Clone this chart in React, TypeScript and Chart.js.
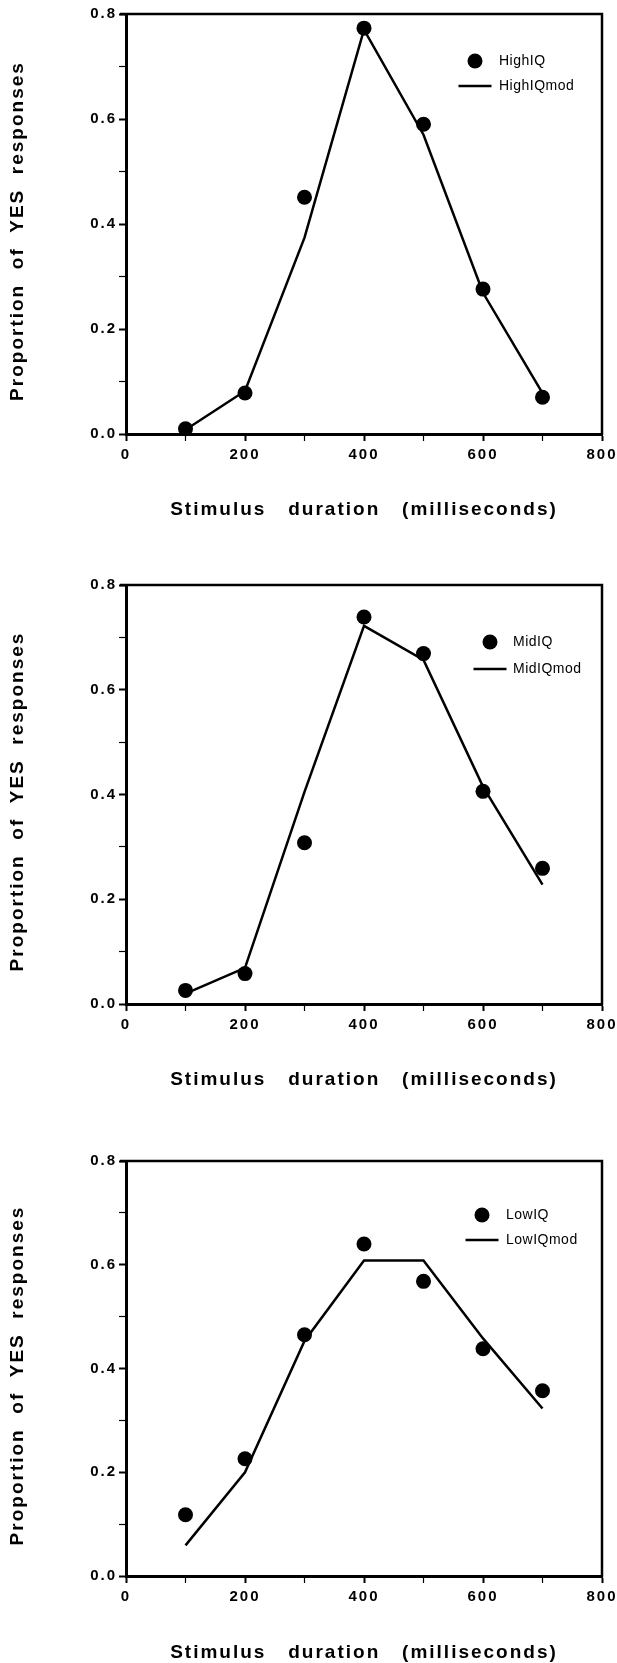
import React, { useEffect, useRef } from "react";
import { Chart, registerables } from "chart.js";
Chart.register(...registerables);

// ---------- data ----------
const durations = [100, 200, 300, 400, 500, 600, 700];
const xTickValues = [0, 200, 400, 600, 800];
const yTickValues = [0, 0.2, 0.4, 0.6, 0.8];

const highIQ = [0.010, 0.078, 0.451, 0.773, 0.590, 0.276, 0.070];
const highIQmod = [0.008, 0.082, 0.374, 0.770, 0.570, 0.269, 0.078];
const midIQ = [0.026, 0.058, 0.308, 0.739, 0.669, 0.406, 0.259];
const midIQmod = [0.020, 0.069, 0.405, 0.722, 0.657, 0.415, 0.228];
const lowIQ = [0.118, 0.226, 0.465, 0.640, 0.568, 0.438, 0.357];
const lowIQmod = [0.059, 0.200, 0.453, 0.608, 0.608, 0.458, 0.323];

const xTitle = "Stimulus   duration   (milliseconds)";
const yTitle = "Proportion  of  YES  responses";

const FONT = "'Liberation Sans', Arial, Helvetica, sans-serif";

// ---------- plugins ----------
const spacingPlugin = {
  id: "letterSpacing",
  beforeDraw(chart: any) {
    chart.ctx.letterSpacing = "2px";
  },
  afterDraw(chart: any) {
    chart.ctx.letterSpacing = "0px";
  },
};

const framePlugin = {
  id: "frame",
  afterDraw(chart: any) {
    const { ctx, chartArea } = chart;
    const { left, top, right, bottom } = chartArea;
    ctx.save();
    ctx.strokeStyle = "#000";
    ctx.lineWidth = 2.5;
    ctx.beginPath();
    ctx.moveTo(left - 6, top);
    ctx.lineTo(right, top);
    ctx.lineTo(right, bottom + 1);
    ctx.stroke();
    ctx.restore();
  },
};

const insetLegendPlugin = {
  id: "insetLegend",
  afterDraw(chart: any, _args: any, opts: any) {
    const { ctx, chartArea } = chart;
    ctx.save();
    ctx.letterSpacing = "0.5px";
    ctx.font = `14px ${FONT}`;
    ctx.textBaseline = "middle";
    ctx.textAlign = "left";
    ctx.fillStyle = "#000";
    chart.data.datasets.forEach((ds: any, i: number) => {
      const cx = chartArea.right - opts.symbolFromRight;
      const cy = chartArea.top + opts.rows[i];
      if (ds.showLine === false) {
        ctx.beginPath();
        ctx.arc(cx, cy, ds.pointRadius, 0, Math.PI * 2);
        ctx.fill();
      } else {
        ctx.strokeStyle = ds.borderColor;
        ctx.lineWidth = ds.borderWidth;
        ctx.beginPath();
        ctx.moveTo(cx - opts.lineHalf, cy);
        ctx.lineTo(cx + opts.lineHalf, cy);
        ctx.stroke();
      }
      ctx.fillText(ds.label, chartArea.right - opts.textFromRight, cy);
    });
    ctx.restore();
  },
};

// y title drawn slightly below the plot centre, as in the original
const yTitlePlugin = {
  id: "yTitle",
  afterDraw(chart: any, _args: any, opts: any) {
    const { ctx, chartArea } = chart;
    ctx.save();
    ctx.letterSpacing = "2px";
    ctx.font = `bold 19px ${FONT}`;
    ctx.fillStyle = "#000";
    ctx.textAlign = "center";
    ctx.textBaseline = "middle";
    ctx.translate(opts.x, (chartArea.top + chartArea.bottom) / 2 + opts.shift);
    ctx.rotate(-Math.PI / 2);
    ctx.fillText(opts.text, 0, 0);
    ctx.restore();
  },
};

// ---------- panels ----------
type Panel = {
  top: number;
  height: number;
  padTop: number;
  chartBottom: number;
  titleY: number;
  names: [string, string];
  obs: number[];
  mod: number[];
  legend: { symbolFromRight: number; textFromRight: number; rows: number[] };
};

const panels: Panel[] = [
  {
    top: 0, height: 540, padTop: 14, chartBottom: 434, titleY: 510,
    names: ["HighIQ", "HighIQmod"], obs: highIQ, mod: highIQmod,
    legend: { symbolFromRight: 127, textFromRight: 103, rows: [47, 72] },
  },
  {
    top: 540, height: 560, padTop: 45, chartBottom: 464, titleY: 540,
    names: ["MidIQ", "MidIQmod"], obs: midIQ, mod: midIQmod,
    legend: { symbolFromRight: 112, textFromRight: 89, rows: [57, 84] },
  },
  {
    top: 1100, height: 563, padTop: 61, chartBottom: 476, titleY: 553,
    names: ["LowIQ", "LowIQmod"], obs: lowIQ, mod: lowIQmod,
    legend: { symbolFromRight: 120, textFromRight: 96, rows: [54, 79] },
  },
];

const W = 617;
const PLOT_LEFT = 126;
const PLOT_RIGHT_PAD = 15;

function makeConfig(p: Panel): any {
  const xHeight = p.height - p.chartBottom;
  const titleFont = { family: FONT, size: 19, weight: "bold" as const, lineHeight: 1 };
  const tickFont = { family: FONT, size: 15, weight: "bold" as const };
  const isMajor = (v: number, arr: number[]) => arr.some((a) => Math.abs(a - v) < 1e-6);
  return {
    type: "line",
    data: {
      datasets: [
        {
          label: p.names[0],
          data: durations.map((d, i) => ({ x: d, y: p.obs[i] })),
          showLine: false,
          pointRadius: 7.5,
          pointBackgroundColor: "#000",
          pointBorderWidth: 0,
          borderColor: "#000",
          backgroundColor: "#000",
          clip: false,
        },
        {
          label: p.names[1],
          data: durations.map((d, i) => ({ x: d, y: p.mod[i] })),
          showLine: true,
          pointRadius: 0,
          borderWidth: 2.5,
          borderColor: "#000",
          backgroundColor: "#000",
          tension: 0,
          fill: false,
          clip: false,
        },
      ],
    },
    options: {
      responsive: false,
      animation: false,
      devicePixelRatio: 1,
      layout: { padding: { top: p.padTop, left: 0, right: PLOT_RIGHT_PAD, bottom: 0 } },
      plugins: {
        legend: { display: false },
        tooltip: { enabled: false },
        insetLegend: { ...p.legend, lineHalf: 16.5 },
        yTitle: { text: yTitle, x: 18, shift: 7 },
      },
      scales: {
        x: {
          type: "linear",
          min: 0,
          max: 800,
          border: { display: true, color: "#000", width: 3 },
          grid: {
            drawOnChartArea: false,
            drawTicks: true,
            tickLength: 7,
            tickColor: "#000",
            tickWidth: (c: any) => (isMajor(c.tick.value, xTickValues) ? 2 : 1.2),
          },
          ticks: {
            stepSize: 100,
            autoSkip: false,
            maxRotation: 0,
            padding: 5,
            color: "#000",
            font: tickFont,
            callback: (v: number) => (isMajor(v, xTickValues) ? String(v) : ""),
          },
          title: {
            display: true,
            text: xTitle,
            color: "#000",
            font: titleFont,
            padding: { top: 0, bottom: p.height - p.titleY - 9.5 },
          },
          afterFit: (s: any) => {
            s.height = xHeight;
            s.paddingLeft = 0;
            s.paddingRight = 0;
          },
        },
        y: {
          type: "linear",
          min: 0,
          max: 0.8,
          border: { display: true, color: "#000", width: 3 },
          grid: {
            drawOnChartArea: false,
            drawTicks: true,
            tickLength: 7,
            tickColor: "#000",
            tickWidth: (c: any) => (isMajor(c.tick.value, yTickValues) ? 2 : 1.2),
          },
          ticks: {
            stepSize: 0.1,
            autoSkip: false,
            padding: 2,
            color: "#000",
            font: tickFont,
            callback: (v: number) => (isMajor(v, yTickValues) ? v.toFixed(1) : ""),
          },
          title: { display: false },
          afterFit: (s: any) => {
            s.width = PLOT_LEFT;
            s.paddingTop = 0;
            s.paddingBottom = 0;
          },
        },
      },
    },
    plugins: [spacingPlugin, framePlugin, insetLegendPlugin, yTitlePlugin],
  };
}

function PanelChart({ p }: { p: Panel }) {
  const ref = useRef<HTMLCanvasElement | null>(null);
  useEffect(() => {
    if (!ref.current) return;
    const chart = new Chart(ref.current, makeConfig(p));
    return () => chart.destroy();
  }, [p]);
  return (
    <div style={{ position: "absolute", left: 0, top: p.top, width: W, height: p.height }}>
      <canvas ref={ref} width={W} height={p.height} style={{ display: "block", width: W, height: p.height }} />
    </div>
  );
}

export default function App() {
  return (
    <div style={{ position: "absolute", left: 0, top: 0, width: W, height: 1663, background: "#fff" }}>
      {panels.map((p, i) => (
        <PanelChart key={i} p={p} />
      ))}
    </div>
  );
}
